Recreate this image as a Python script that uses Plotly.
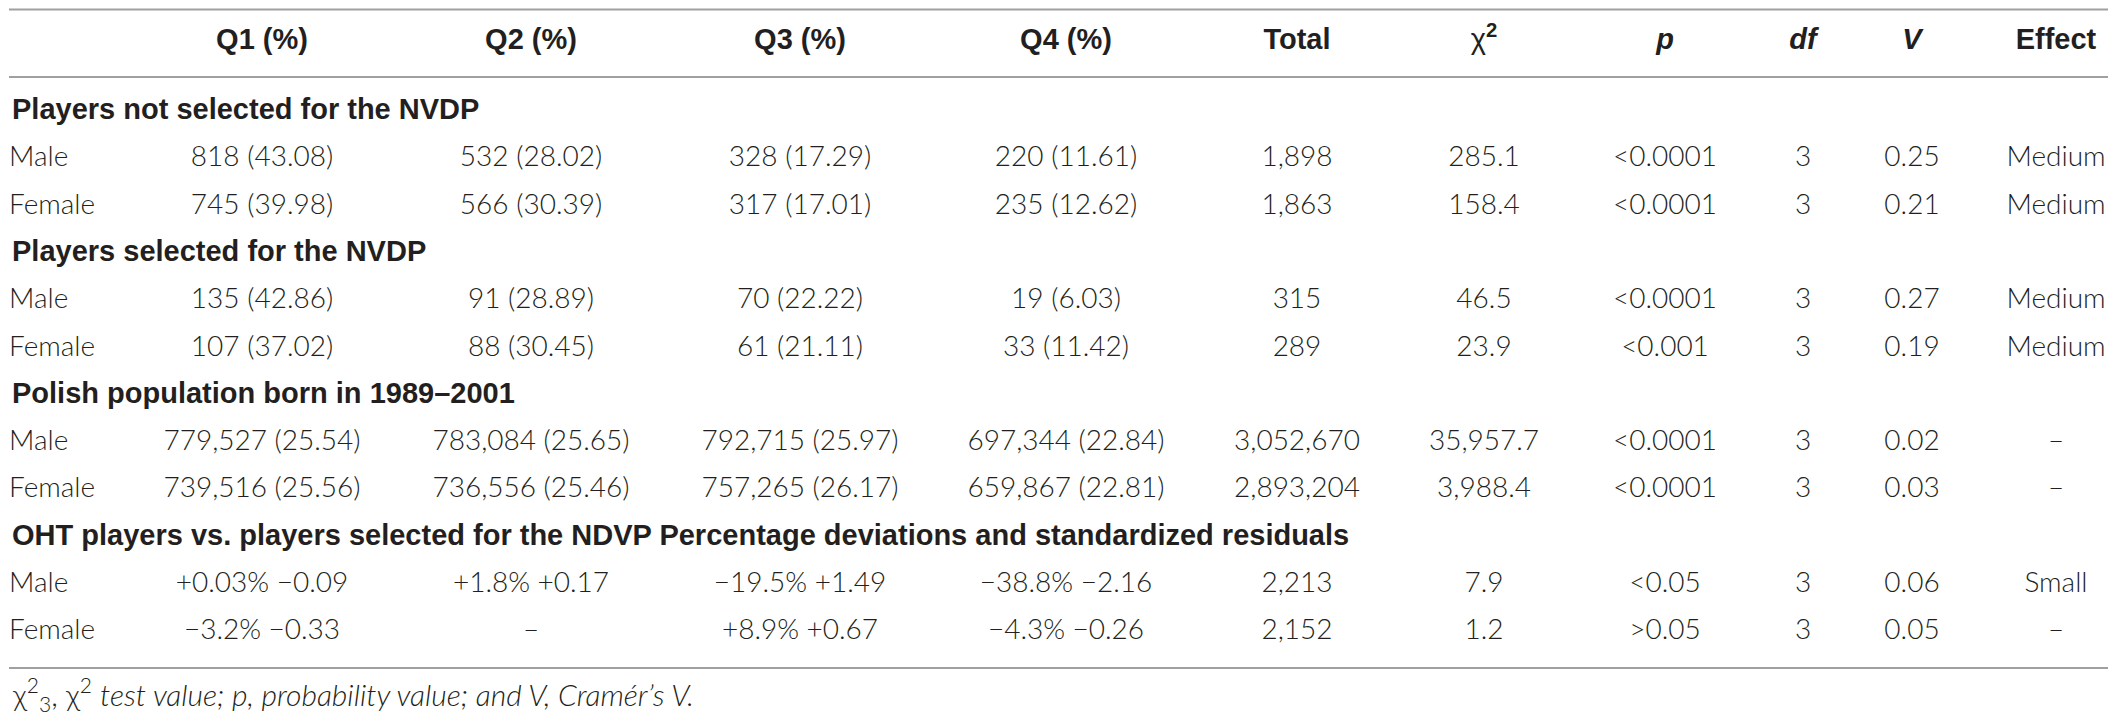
import plotly.graph_objects as go

# Table content
sections = [
    "Players not selected for the NVDP",
    "Players selected for the NVDP",
    "Polish population born in 1989–2001",
    "OHT players vs. players selected for the NDVP Percentage deviations and standardized residuals",
]
groups = ["Male", "Female"]

headers = ["Q1 (%)", "Q2 (%)", "Q3 (%)", "Q4 (%)", "Total",
           "<span style='font-weight:300'>χ</span><sup>2</sup>",
           "<i>p</i>", "<i>df</i>", "<i>V</i>", "Effect"]

q1 = ["818 (43.08)", "745 (39.98)", "135 (42.86)", "107 (37.02)",
      "779,527 (25.54)", "739,516 (25.56)", "+0.03% −0.09", "−3.2% −0.33"]
q2 = ["532 (28.02)", "566 (30.39)", "91 (28.89)", "88 (30.45)",
      "783,084 (25.65)", "736,556 (25.46)", "+1.8% +0.17", "–"]
q3 = ["328 (17.29)", "317 (17.01)", "70 (22.22)", "61 (21.11)",
      "792,715 (25.97)", "757,265 (26.17)", "−19.5% +1.49", "+8.9% +0.67"]
q4 = ["220 (11.61)", "235 (12.62)", "19 (6.03)", "33 (11.42)",
      "697,344 (22.84)", "659,867 (22.81)", "−38.8% −2.16", "−4.3% −0.26"]
total = ["1,898", "1,863", "315", "289", "3,052,670", "2,893,204", "2,213", "2,152"]
chi2 = ["285.1", "158.4", "46.5", "23.9", "35,957.7", "3,988.4", "7.9", "1.2"]
p_val = ["<0.0001", "<0.0001", "<0.0001", "<0.001", "<0.0001", "<0.0001", "<0.05", ">0.05"]
dfree = ["3", "3", "3", "3", "3", "3", "3", "3"]
cramer_v = ["0.25", "0.21", "0.27", "0.19", "0.02", "0.03", "0.06", "0.05"]
effect = ["Medium", "Medium", "Medium", "Medium", "–", "–", "Small", "–"]

footnote = ("χ<sup>2</sup><sub>3</sub>, χ<sup>2</sup> <i>test value; p, probability value; "
            "and V, Cramér’s V.</i>")

columns = [q1, q2, q3, q4, total, chi2, p_val, dfree, cramer_v, effect]

# layout: coordinates are page pixels; the page body has an 8px margin
W, H = 2117, 723
PAD = 8
col_x = [262, 531, 800, 1066, 1297, 1484, 1665, 1803, 1912, 2056]
header_y = 42
first_row_y = 112
row_step = 47.3
TEXT = "#231f20"
LINE = "#a0a0a0"
BODY_FONT = "Lato"
BOLD_FONT = "Liberation Sans"
FS = 28


def esc(s):
    return s.replace("<", "&lt;").replace(">", "&gt;")


def row_y(i):
    return first_row_y + row_step * i


# row index for each body row (skipping the section rows)
body_rows = []
for g in range(len(sections)):
    body_rows += [g * 3 + 1, g * 3 + 2]

fig = go.Figure()

# header row
fig.add_trace(go.Scatter(
    x=col_x, y=[header_y] * len(col_x), text=headers, mode="text",
    textposition="middle center", cliponaxis=False,
    textfont=dict(family=BOLD_FONT, size=29, color=TEXT, weight=700),
    hoverinfo="skip", showlegend=False,
))

# section titles
fig.add_trace(go.Scatter(
    x=[12] * len(sections), y=[row_y(g * 3) for g in range(len(sections))],
    text=sections, mode="text", textposition="middle right", cliponaxis=False,
    textfont=dict(family=BOLD_FONT, size=29, color=TEXT, weight=700),
    hoverinfo="skip", showlegend=False,
))

# row labels
fig.add_trace(go.Scatter(
    x=[9] * len(body_rows), y=[row_y(r) for r in body_rows],
    text=groups * len(sections), mode="text", textposition="middle right",
    cliponaxis=False,
    textfont=dict(family=BODY_FONT, size=FS, color=TEXT, weight=300),
    hoverinfo="skip", showlegend=False,
))

# value columns
for cx, vals in zip(col_x, columns):
    fig.add_trace(go.Scatter(
        x=[cx] * len(vals), y=[row_y(r) for r in body_rows],
        text=[esc(v) for v in vals], mode="text", textposition="middle center",
        cliponaxis=False,
        textfont=dict(family=BODY_FONT, size=FS, color=TEXT, weight=300),
        hoverinfo="skip", showlegend=False,
    ))

# rules
for yy in [9.5, 77, 668]:
    fig.add_shape(type="line", x0=PAD + 1, x1=W - PAD - 1, y0=yy, y1=yy,
                  line=dict(color=LINE, width=2))

fig.add_annotation(x=10, y=694, text=footnote, showarrow=False,
                   xanchor="left", yanchor="middle",
                   font=dict(family=BODY_FONT, size=30, color=TEXT, weight=300))

fig.update_layout(
    width=W - 2 * PAD, height=H - 2 * PAD,
    margin=dict(l=0, r=0, t=0, b=0),
    paper_bgcolor="white", plot_bgcolor="white",
    xaxis=dict(range=[PAD, W - PAD], visible=False, fixedrange=True),
    yaxis=dict(range=[H - PAD, PAD], visible=False, fixedrange=True),
)

fig.write_html("out.html")
